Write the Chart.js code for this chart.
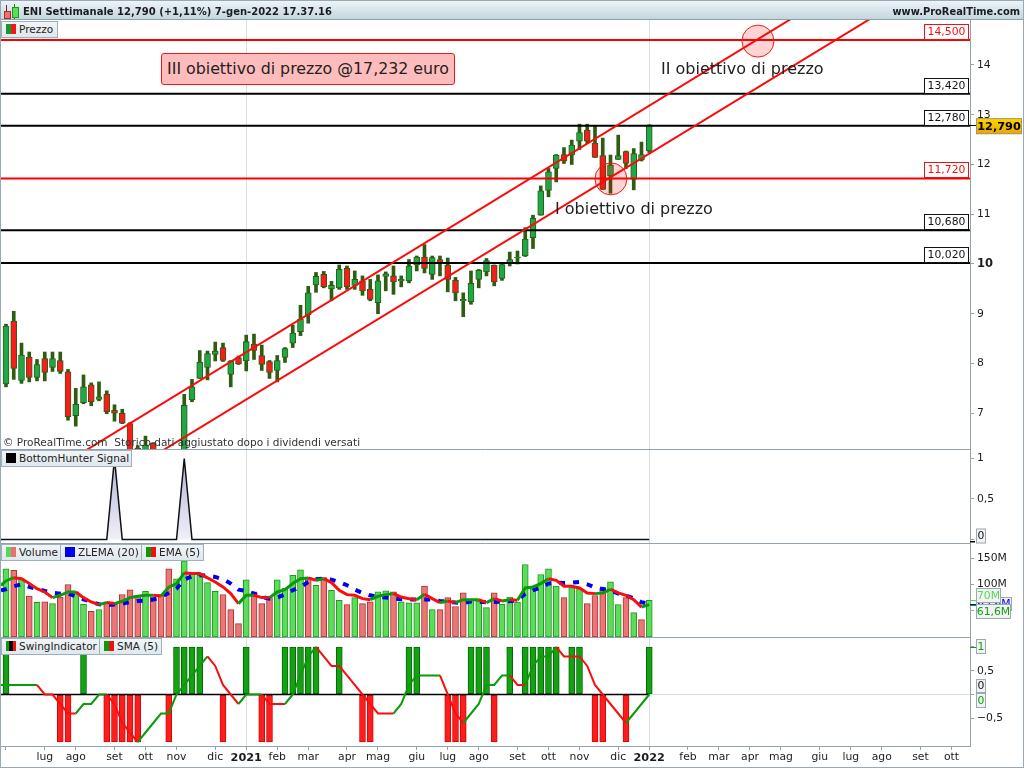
<!DOCTYPE html>
<html>
<head>
<meta charset="utf-8">
<title>ENI Settimanale</title>
<script src="https://cdn.jsdelivr.net/npm/chart.js@4"></script>
<style>
html, body { margin: 0; padding: 0; background: #fff; }
#page { position: relative; width: 1024px; height: 768px; overflow: hidden; font-family: "DejaVu Sans", sans-serif; color: #222; }
canvas { position: absolute; left: 0; top: 0; }
#header { position: absolute; left: 0; top: 0; width: 1024px; height: 20px; box-sizing: border-box; background: linear-gradient(#edf4f7, #c3d6de); border: 1px solid #9aaab4; border-bottom: 1px solid #8fa0aa; font-weight: bold; font-size: 10px; line-height: 21px; color: #1c1c1c; }
#title { position: absolute; left: 22px; top: 0; white-space: nowrap; }
#site { position: absolute; right: 3px; top: 0; white-space: nowrap; font-size: 9.9px; }
.ic { position: absolute; }
.tab { position: absolute; height: 17px; box-sizing: border-box; background: linear-gradient(#f0f4f7, #dfe8ed); border: 1px solid #9eb0ba; font-size: 10.5px; line-height: 15px; padding-left: 17px; white-space: nowrap; color: #222; }
.tab i { position: absolute; left: 4px; top: 2px; width: 10px; height: 10px; }
.note { position: absolute; font-size: 16px; white-space: nowrap; color: #222; }
#target3 { left: 161px; top: 53px; width: 294px; height: 32px; box-sizing: border-box; background: #ffbcbc; border: 1px solid #f01818; border-radius: 3px; line-height: 30px; text-align: center; font-size: 15.8px; }
#copy { position: absolute; left: 3px; top: 436px; font-size: 10.5px; white-space: pre; color: #333; }
#frame { position: absolute; left: 0; top: 0; width: 1024px; height: 768px; box-sizing: border-box; border: 1px solid #9aaab4; pointer-events: none; }
</style>
</head>
<body>
<div id="page">
  <canvas id="chart" width="1024" height="768"></canvas>
  <div id="header">
    <div class="ic" style="left:5px;top:4px;width:1px;height:14px;background:#7c2020"></div>
    <div class="ic" style="left:3px;top:10px;width:5px;height:6px;background:#f07070;border:1px solid #a83030"></div>
    <div class="ic" style="left:13px;top:3px;width:1px;height:15px;background:#1f7a1f"></div>
    <div class="ic" style="left:11px;top:6px;width:5px;height:9px;background:#58e058;border:1px solid #1f9a1f"></div>
    <div id="title">ENI Settimanale 12,790 (+1,11%) 7-gen-2022 17.37.16</div>
    <div id="site">www.ProRealTime.com</div>
  </div>
  <div class="tab" style="left:1px;top:21px;width:57px"><i style="background:linear-gradient(90deg,#109a30 50%,#f01818 50%)"></i>Prezzo</div>
  <div class="note" id="target3">III obiettivo di prezzo @17,232 euro</div>
  <div class="note" style="left:661px;top:59px">II obiettivo di prezzo</div>
  <div class="note" style="left:555px;top:199px">I obiettivo di prezzo</div>
  <div id="copy">© ProRealTime.com  Storico dati aggiustato dopo i dividendi versati</div>
  <div class="tab" style="left:1px;top:450px;width:131px"><i style="background:#000"></i>BottomHunter Signal</div>
  <div class="tab" style="left:1px;top:544px;width:60px"><i style="background:linear-gradient(90deg,#57d957 50%,#ea7070 50%)"></i>Volume</div>
  <div class="tab" style="left:60px;top:544px;width:82px"><i style="background:#0000f0"></i>ZLEMA (20)</div>
  <div class="tab" style="left:141px;top:544px;width:63px"><i style="background:linear-gradient(90deg,#0a9a0a 50%,#f01010 50%)"></i>EMA (5)</div>
  <div class="tab" style="left:1px;top:638px;width:99px"><i style="background:linear-gradient(90deg,#0a9a0a 30%,#000 30%,#000 70%,#f01010 70%)"></i>SwingIndicator</div>
  <div class="tab" style="left:99px;top:638px;width:63px"><i style="background:linear-gradient(90deg,#0a9a0a 50%,#f01010 50%)"></i>SMA (5)</div>
  <div id="frame"></div>
</div>
<script>
// weekly candles (index 0 = first visible week)
const opens = [7.59,8.85,7.66,8.13,7.72,8.10,7.92,8.06,7.83,6.95,
  7.21,7.57,7.28,7.38,7.06,7.00,6.79,6.30,6.10,6.40,
  5.90,6.10,5.95,6.10,7.27,7.70,7.92,8.18,8.32,7.78,
  8.12,8.05,8.39,8.16,8.04,7.86,8.12,8.41,8.64,8.98,
  9.58,9.79,9.50,9.52,9.91,9.57,9.66,9.49,9.22,9.75,
  9.76,9.66,9.66,9.98,10.14,9.79,10.09,9.98,9.67,9.26,
  9.24,9.69,9.84,9.98,9.71,10.01,10.12,10.16,10.53,10.98,
  11.48,11.92,12.20,12.19,12.47,12.69,12.43,12.18,11.77,12.10,
  12.26,11.70,12.09,12.27];
const closes = [8.75,7.90,8.17,7.72,7.98,7.82,8.10,7.84,6.93,7.18,
  7.53,7.23,7.33,7.03,7.00,6.80,6.15,6.05,6.36,6.10,
  6.00,5.90,6.10,7.16,7.53,8.03,8.20,8.25,8.06,8.05,
  7.99,8.44,8.26,7.98,7.82,8.06,8.30,8.61,8.89,9.42,
  9.75,9.54,9.57,9.89,9.54,9.69,9.46,9.29,9.66,9.80,
  9.64,9.69,9.96,10.14,9.91,10.13,10.01,9.69,9.42,9.29,
  9.61,9.87,10.07,9.64,9.99,10.09,10.14,10.50,10.92,11.47,
  11.85,12.19,12.07,12.39,12.64,12.47,12.14,11.50,11.99,12.18,
  12.02,12.22,12.20,12.79];
const highs = [8.79,9.05,8.41,8.23,8.08,8.23,8.23,8.23,7.88,7.50,
  7.77,7.61,7.63,7.45,7.17,7.08,6.81,6.35,6.54,6.41,
  6.20,6.20,6.20,7.38,7.68,8.26,8.25,8.43,8.41,8.06,
  8.15,8.57,8.59,8.37,8.06,8.16,8.32,8.77,9.17,9.55,
  9.83,9.85,9.65,9.98,9.96,9.86,9.76,9.69,9.78,9.84,
  9.96,9.76,10.09,10.16,10.39,10.16,10.16,10.12,9.73,9.42,
  9.86,9.89,10.11,9.98,9.99,10.24,10.26,10.73,10.98,11.57,
  11.92,12.20,12.34,12.49,12.81,12.81,12.77,12.53,12.19,12.59,
  12.27,12.32,12.45,12.80];
const lows = [7.53,7.68,7.60,7.63,7.65,7.65,7.84,7.80,6.86,6.74,
  7.19,7.15,7.25,6.99,6.84,6.79,6.00,5.90,5.90,6.00,
  5.70,5.70,5.80,6.00,7.23,7.70,7.67,8.05,8.04,7.53,
  7.98,7.85,8.08,7.86,7.70,7.63,8.02,8.32,8.56,8.81,
  9.43,9.52,9.26,9.49,9.49,9.49,9.37,9.26,9.00,9.46,
  9.39,9.54,9.62,9.86,9.82,9.69,9.76,9.44,9.26,8.94,
  9.19,9.52,9.76,9.56,9.67,9.96,10.00,10.15,10.31,10.98,
  11.35,11.65,12.02,12.00,12.30,12.42,12.14,11.50,11.42,12.10,
  11.92,11.49,12.07,12.24];

// volume in millions, +1 green bar, -1 red bar
const volumes = [130,127,111,78,66,67,63.6,76,100,86,
  62,49,52,67,62,81,90,79,87,76,
  81,130,111,145,121,117.5,103.6,87,81,52,
  25.5,109,86,63.6,75,109,93,117.5,128,113,
  98.5,113,89,70,61.6,75,63.6,67,86,88,
  86,67,65,65,97,52,52,75,58,84,
  71,68.6,56,84,62,76,66.7,138,92,119,
  130,97,75,94,92,63.6,79,92,105,61.6,
  75,46.4,33,70];
const volumeSides = [1,-1,1,-1,1,-1,1,-1,-1,1,
  1,-1,1,-1,-1,-1,-1,-1,1,-1,
  -1,-1,1,1,1,1,1,1,-1,-1,
  -1,1,-1,-1,-1,1,1,1,1,-1,
  1,-1,1,1,-1,1,-1,-1,1,1,
  -1,1,1,1,-1,1,-1,-1,-1,-1,
  1,1,1,-1,1,1,1,1,1,1,
  1,1,-1,1,1,-1,-1,-1,1,1,
  -1,1,-1,1];
const zlema = [90.9,96.6,100.4,95.3,91.5,87.7,84.5,82.6,82.6,77.5,
  71.8,66.7,62.3,60.4,61.7,63.6,66.7,68.6,69.3,71.2,
  76.3,83.9,92.1,109.3,115.6,117.5,116.9,114.4,109.9,101.7,
  90.2,87.7,82.6,76.3,73.1,75,81.3,89,95.3,104.8,
  109.9,111.2,109.3,104.8,98.5,90.2,83.9,79.4,76.3,75,
  73.7,71.8,71.2,71.2,71.2,71.2,68.6,67.4,65.5,64.8,
  67.4,67.4,66.1,66.7,67.4,68,69.9,82.6,89,94,
  101.7,103.6,102.9,103.6,104.8,100.4,94,91.5,89,82.6,
  78.8,73.7,66.1,63.6];
const ema = [106.7,113,111,101.7,92,85.8,75,79.4,85.8,85.8,
  75,66.7,61.7,65.5,63.6,68,75,77.5,79.4,79.4,
  78,95,101.7,122,120.7,120.7,112.5,104.8,95.3,82.6,
  63.6,79.4,79.4,75,75,85.8,90,101.7,111,112.5,
  108,111,103.6,89,80.7,79.4,73,71,77.5,80.7,
  82.6,76,73,71,81.3,73,65.5,68.6,65.5,71,
  71,71,65.5,73,68.6,71,69.9,93.4,95.3,101.7,
  111,108,96.6,96.6,93.4,83.9,82.6,83.9,90.9,83.9,
  79.4,71,57,61.6];
// where the lines come in at the left edge, the week before is off the picture
const zlemaBefore = 89, emaBefore = 98.5;

const hunterSignal = [0,0,0,0,0,0,0,0,0,0,0,0,0,0,1,0,0,0,0,0,0,0,0,1,0,0,0,0,0,0,
  0,0,0,0,0,0,0,0,0,0,0,0,0,0,0,0,0,0,0,0,0,0,0,0,0,0,0,0,0,0,
  0,0,0,0,0,0,0,0,0,0,0,0,0,0,0,0,0,0,0,0,0,0,0,0];
const swing = [1,0,0,0,0,0,0,-1,-1,0,
  1,0,0,-1,-1,-1,-1,-1,0,0,
  0,-1,1,1,1,1,0,0,-1,0,
  0,1,0,-1,-1,0,1,1,1,1,
  1,0,0,1,0,0,-1,-1,0,0,
  0,0,1,1,0,0,0,-1,-1,-1,
  1,1,1,-1,0,1,0,1,1,1,
  1,1,0,1,1,0,-1,-1,0,0,
  -1,0,0,1];
const swingSma = [0.2,0.2,0.2,0.2,0.2,0,0,-0.2,-0.4,-0.4,
  -0.2,-0.2,0,0,-0.2,-0.6,-0.8,-1,-0.8,-0.6,
  -0.4,-0.4,0,0.2,0.4,0.6,0.8,0.6,0.2,0,
  -0.2,0,0,0,-0.2,-0.2,-0.2,0,0.4,0.8,
  1,0.8,0.6,0.6,0.4,0.2,0,-0.2,-0.4,-0.4,
  -0.4,-0.2,0.2,0.4,0.4,0.4,0.4,0,-0.4,-0.6,
  -0.4,-0.2,0.2,0.2,0.4,0.4,0.2,0.2,0.6,0.8,
  0.8,1,0.8,0.8,0.8,0.6,0.2,0,-0.2,-0.4,
  -0.6,-0.4,-0.2,0];

const tickWeeks = [0,5,9,14,18,22,27,31,35,39,44,48,53,57,61,66,70,74,79,83,88,92,96,100,105,109,113,118,122];
const tickLabels = ["","lug","ago","set","ott","nov","dic","2021","feb","mar","apr","mag","giu","lug","ago","set","ott","nov","dic","2022","feb","mar","apr","mag","giu","lug","ago","set","ott"];
const yearWeeks = [31, 83];

const priceTicks = [7,8,9,10,11,12,13,14];
const hunterTicks = [0,0.5,1];
const volumeTicks = [50,100,150];
const swingTicks = [-0.5,0,0.5,1];

const levels = [14.5,13.42,12.78,11.72,10.68,10.02];
const levelLabels = ["14,500","13,420","12,780","11,720","10,680","10,020"];
const levelIsRed = [true,false,false,true,false,false];

const upperTrendX = [10.37,101.45];
const upperTrendY = [6.26,14.94];
const lowerTrendX = [20.31,111.65];
const lowerTrendY = [6.26,14.94];

const circleX = [97.03,78.06];
const circleY = [14.48,11.71];

const xMin = -0.645, xMax = 124.39;

const UP = "#1fa848", DOWN = "#f81c1c", WICK = "#2e5c12";
const LINE_UP = "#0a9a0a", LINE_DOWN = "#f80e0e";
const AXIS = "#93a3ad";

const weeks = closes.map((_, i) => i);
const points = values => values.map((v, i) => ({ x: i, y: v }));
const pointsFromEdge = (values, before) => [{ x: xMin, y: before }, ...points(values)];

// flat stretches keep the colour of the last move
function trendColor(series, i) {
    for (let k = i; k >= 0; k--) {
        if (series[k + 1] > series[k]) return LINE_UP;
        if (series[k + 1] < series[k]) return LINE_DOWN;
    }
    return LINE_UP;
}

function twoPointLine(xs, ys, color, width, order) {
    return {
        type: "line",
        data: xs.map((x, i) => ({ x, y: ys[i] })),
        yAxisID: "yPrice",
        borderColor: color,
        borderWidth: width,
        pointRadius: 0,
        tension: 0,
        order
    };
}

const levelSets = levels.map((v, i) =>
    twoPointLine([xMin, xMax], [v, v], levelIsRed[i] ? "#fa0000" : "#000", 2, 5));

function drawTag(ctx, text, right, bottom, width, height, color, border, fill, font) {
    ctx.fillStyle = fill;
    ctx.fillRect(right - width, bottom - height, width, height);
    ctx.strokeStyle = border;
    ctx.lineWidth = 1;
    ctx.strokeRect(right - width + 0.5, bottom - height + 0.5, width - 1, height - 1);
    ctx.fillStyle = color;
    ctx.font = font;
    ctx.textAlign = "center";
    ctx.textBaseline = "middle";
    ctx.fillText(text, right - width / 2, bottom - height / 2 + 0.5);
}

const tagsPlugin = {
    id: "tags",
    afterDatasetsDraw(chart) {
        const { ctx, scales, chartArea } = chart;
        ctx.save();
        // panel separators
        ctx.strokeStyle = AXIS;
        ctx.lineWidth = 1;
        [scales.yPrice, scales.yHunter, scales.yVolume].forEach(s => {
            ctx.beginPath();
            ctx.moveTo(chartArea.left, Math.round(s.bottom) + 0.5);
            ctx.lineTo(chartArea.right, Math.round(s.bottom) + 0.5);
            ctx.stroke();
        });
        // level labels sit on their line
        const small = "10.8px 'DejaVu Sans'";
        levels.forEach((v, i) => {
            const y = Math.round(scales.yPrice.getPixelForValue(v));
            const c = levelIsRed[i] ? "#f01010" : "#111";
            drawTag(ctx, levelLabels[i], chartArea.right - 1, y, 45, 16, c, c, "#fff", small);
        });
        ctx.restore();
    },
    afterDraw(chart) {
        const { ctx, scales, chartArea } = chart;
        const x = chartArea.right + 6;
        const grey = "#f2f2f2", edge = "#9aa9b3", green = "#10a010", tagFont = "10.8px 'DejaVu Sans'";
        ctx.save();
        // last close
        const py = scales.yPrice.getPixelForValue(closes[closes.length - 1]);
        const gold = ctx.createLinearGradient(0, py - 8, 0, py + 8);
        gold.addColorStop(0, "#ffd900");
        gold.addColorStop(1, "#eaa800");
        ctx.fillStyle = "#000";
        ctx.fillRect(chartArea.right, Math.round(py), 6, 1);
        drawTag(ctx, "12,790", x + 46, py + 9, 46, 16, "#000", "#a09a70", gold, "bold 11.3px 'DejaVu Sans'");
        // hunter
        const h0 = scales.yHunter.getPixelForValue(0);
        ctx.fillStyle = "#000";
        ctx.fillRect(chartArea.right, Math.round(h0) + 1, 5, 1.5);
        drawTag(ctx, "0", x + 10, h0 + 4, 10, 15, "#111", edge, grey, tagFont);
        // volume
        const v = scales.yVolume;
        ctx.fillStyle = "#0000f0";
        ctx.fillRect(chartArea.right, Math.round(v.getPixelForValue(63.6)), 6, 1.5);
        ctx.fillStyle = "#57d957";
        ctx.fillRect(chartArea.right, Math.round(v.getPixelForValue(70)), 6, 1);
        ctx.fillStyle = LINE_UP;
        ctx.fillRect(chartArea.right, Math.round(v.getPixelForValue(61.6)), 6, 1);
        drawTag(ctx, "63,6M", x + 36, 611, 36, 14, "#0000f0", edge, grey, tagFont);
        drawTag(ctx, "70M", x + 25, 603, 25, 15, "#57d957", edge, grey, tagFont);
        drawTag(ctx, "61,6M", x + 35, 619, 35, 15, green, edge, grey, tagFont);
        // swing
        const s = scales.ySwing;
        ctx.fillStyle = LINE_UP;
        ctx.fillRect(chartArea.right, Math.round(s.getPixelForValue(1)), 6, 1);
        drawTag(ctx, "1", x + 10, 654, 10, 15, green, edge, grey, tagFont);
        drawTag(ctx, "0", x + 10, 693, 10, 14, "#111", edge, grey, tagFont);
        drawTag(ctx, "0", x + 10, 708, 10, 15, green, edge, grey, tagFont);
        ctx.restore();
    }
};

function yAxis(ticksList, min, max, weight, boldValue) {
    return {
        type: "linear",
        position: "right",
        stack: "panels",
        stackWeight: weight,
        min,
        max,
        border: { color: AXIS },
        grid: {
            drawOnChartArea: false,
            tickColor: AXIS,
            tickLength: 4
        },
        afterBuildTicks(scale) {
            scale.ticks = ticksList.map(value => ({ value }));
        },
        afterFit(scale) {
            scale.width = 54;
        },
        ticks: {
            padding: 3,
            color: "#1c1c1c",
            font: ctx => (ctx.tick && ctx.tick.value === boldValue
                ? { family: "DejaVu Sans", size: 11.5, weight: "bold" }
                : { family: "DejaVu Sans", size: 10.8 }),
            callback: value => {
                if (Math.abs(value) >= 50) return value + "M";
                return String(value).replace(".", ",").replace("-", "\u2212");
            }
        }
    };
}

new Chart(document.getElementById("chart"), {
    data: {
        datasets: [
            // price panel
            {
                type: "bar",
                data: weeks.map(i => ({ x: i, y: [lows[i], highs[i]] })),
                yAxisID: "yPrice",
                backgroundColor: WICK,
                borderWidth: 0,
                barThickness: 3,
                grouped: false,
                order: 9
            },
            {
                type: "bar",
                data: weeks.map(i => ({ x: i, y: [opens[i], closes[i]] })),
                yAxisID: "yPrice",
                backgroundColor: weeks.map(i => (closes[i] >= opens[i] ? UP : DOWN)),
                borderColor: WICK,
                borderWidth: 1,
                borderSkipped: false,
                barThickness: 6,
                grouped: false,
                order: 8
            },
            ...levelSets,
            twoPointLine(upperTrendX, upperTrendY, "#fa0c0c", 2, 4),
            twoPointLine(lowerTrendX, lowerTrendY, "#fa0c0c", 2, 4),
            {
                type: "scatter",
                data: circleX.map((x, i) => ({ x, y: circleY[i] })),
                yAxisID: "yPrice",
                backgroundColor: "rgba(255,0,0,0.17)",
                borderColor: "#f01818",
                borderWidth: 1,
                pointRadius: 16,
                order: 3
            },
            // bottom hunter panel
            {
                type: "line",
                data: pointsFromEdge(hunterSignal, 0),
                yAxisID: "yHunter",
                borderColor: "#111",
                borderWidth: 1.5,
                pointRadius: 0,
                tension: 0,
                fill: "origin",
                backgroundColor(ctx) {
                    const s = ctx.chart.scales.yHunter;
                    const top = s ? s.getPixelForValue(1) : NaN;
                    const bottom = s ? s.getPixelForValue(0) : NaN;
                    if (!isFinite(top) || !isFinite(bottom)) return "#d4d4ea";
                    const g = ctx.chart.ctx.createLinearGradient(0, top, 0, bottom);
                    g.addColorStop(0, "#b4b4d8");
                    g.addColorStop(1, "#f0f0f8");
                    return g;
                },
                order: 5
            },
            // volume panel
            {
                type: "bar",
                data: points(volumes),
                yAxisID: "yVolume",
                backgroundColor: volumeSides.map(s => (s > 0 ? "#5bdc5b" : "#ec7676")),
                borderColor: volumeSides.map(s => (s > 0 ? "#1f9a1f" : "#a83434")),
                borderWidth: 1,
                borderSkipped: false,
                barThickness: 6,
                grouped: false,
                order: 9
            },
            {
                type: "line",
                data: pointsFromEdge(zlema, zlemaBefore),
                yAxisID: "yVolume",
                borderColor: "#0000f0",
                borderWidth: 4,
                borderDash: [6, 8],
                pointRadius: 0,
                tension: 0,
                order: 5
            },
            {
                type: "line",
                data: pointsFromEdge(ema, emaBefore),
                yAxisID: "yVolume",
                borderColor: LINE_UP,
                borderWidth: 3,
                pointRadius: 0,
                tension: 0,
                segment: { borderColor: ctx => (ctx.p0DataIndex === 0 ? LINE_UP : trendColor(ema, ctx.p0DataIndex - 1)) },
                order: 4
            },
            // swing panel
            {
                type: "bar",
                data: points(swing),
                yAxisID: "ySwing",
                backgroundColor: swing.map(s => (s > 0 ? "#12a212" : "#ff1c1c")),
                borderColor: swing.map(s => (s > 0 ? "#0a640a" : "#c80c0c")),
                borderWidth: 1,
                borderSkipped: false,
                barThickness: 6,
                grouped: false,
                order: 9
            },
            {
                type: "line",
                data: [{ x: xMin, y: 0 }, { x: weeks[weeks.length - 1], y: 0 }],
                yAxisID: "ySwing",
                borderColor: "#000",
                borderWidth: 1.5,
                pointRadius: 0,
                order: 6
            },
            {
                type: "line",
                data: [{ x: weeks[weeks.length - 1], y: 0 }, { x: xMax, y: 0 }],
                yAxisID: "ySwing",
                borderColor: "#d9dde6",
                borderWidth: 1,
                pointRadius: 0,
                order: 7
            },
            {
                type: "line",
                data: pointsFromEdge(swingSma, swingSma[0]),
                yAxisID: "ySwing",
                borderColor: LINE_UP,
                borderWidth: 2,
                pointRadius: 0,
                tension: 0,
                segment: { borderColor: ctx => (ctx.p0DataIndex === 0 ? LINE_UP : trendColor(swingSma, ctx.p0DataIndex - 1)) },
                order: 4
            }
        ]
    },
    options: {
        responsive: false,
        animation: false,
        events: [],
        layout: { autoPadding: false, padding: { top: 20, left: 1, right: 0, bottom: 0 } },
        plugins: { legend: { display: false }, tooltip: { enabled: false } },
        scales: {
            x: {
                type: "linear",
                position: "bottom",
                offset: false,
                min: xMin,
                max: xMax,
                border: { color: AXIS },
                grid: {
                    offset: false,
                    color: ctx => (ctx.tick && yearWeeks.includes(ctx.tick.value) ? "#d9dde6" : "rgba(0,0,0,0)"),
                    tickColor: AXIS,
                    tickLength: 4
                },
                afterBuildTicks(scale) {
                    scale.ticks = tickWeeks.map(value => ({ value }));
                },
                afterFit(scale) {
                    scale.height = 22;
                    scale.paddingLeft = 0;
                    scale.paddingRight = 0;
                },
                ticks: {
                    autoSkip: false,
                    maxRotation: 0,
                    padding: 1,
                    color: "#1c1c1c",
                    font: ctx => (ctx.tick && yearWeeks.includes(ctx.tick.value)
                        ? { family: "DejaVu Sans", size: 11.3, weight: "bold" }
                        : { family: "DejaVu Sans", size: 10.8 }),
                    callback: value => tickLabels[tickWeeks.indexOf(value)]
                }
            },
            yPrice: yAxis(priceTicks, 6.281, 14.904, 429, 10),
            yHunter: yAxis(hunterTicks, -0.043, 1.117, 94),
            yVolume: yAxis(volumeTicks, 0, 179, 94),
            ySwing: yAxis(swingTicks, -1.084, 1.21, 109)
        }
    },
    plugins: [tagsPlugin]
});
</script>
</body>
</html>
